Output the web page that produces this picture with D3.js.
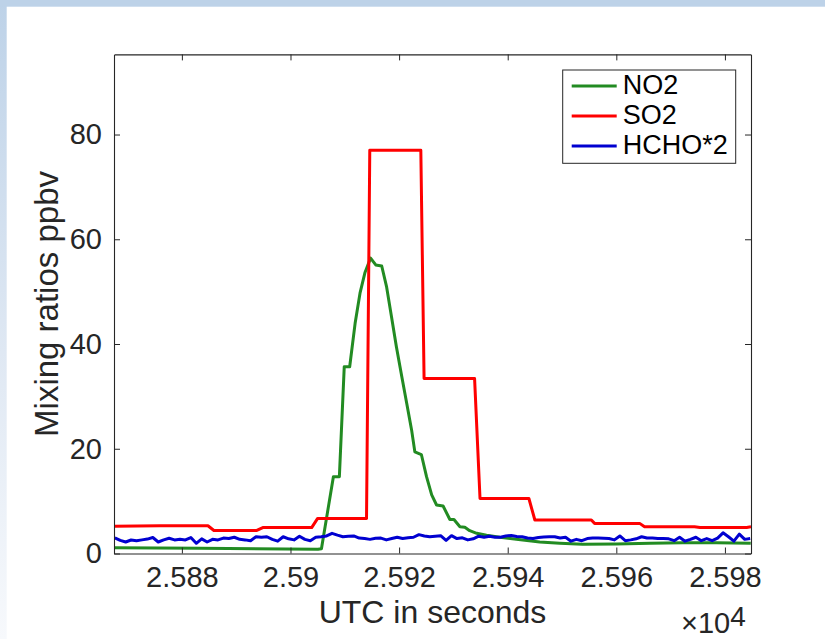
<!DOCTYPE html>
<html>
<head>
<meta charset="utf-8">
<script src="https://cdn.jsdelivr.net/npm/d3@7"></script>
<style>
  html, body { margin: 0; padding: 0; background: #ffffff; }
  svg { display: block; }
  text { font-family: "Liberation Sans", Arial, Helvetica, sans-serif; }
</style>
</head>
<body>
<svg id="chart" width="825" height="639"></svg>
<script>
// ---- data -------------------------------------------------------------
const xDomain = [25867.5, 25984.8];          // UTC seconds
const yDomain = [0, 95.3];                   // ppbv
const xTicks = [25880, 25900, 25920, 25940, 25960, 25980];
const yTicks = [0, 20, 40, 60, 80];
const seriesNames = ["NO2", "SO2", "HCHO*2"];
const seriesColors = ["#228b22", "#ff0000", "#0000d0"];

// NO2, vertices of the 1 Hz trace
const no2Time = [
  25867.5, 25883.3, 25905.05, 25905.7, 25907.9, 25909.0, 25909.9, 25910.9,
  25911.9, 25912.8, 25913.7, 25914.75, 25915.7, 25916.8, 25917.7, 25918.6,
  25919.5, 25920.5, 25921.4, 25922.3, 25922.9, 25924.1, 25925.05, 25926.0,
  25926.9, 25928.1, 25929.35, 25930.1, 25931.2, 25932.1, 25933.0, 25934.3,
  25936.1, 25938.55, 25941.6, 25945.9, 25949.6, 25953.8, 25960.0, 25966.2,
  25972.25, 25978.4, 25984.75
];
const no2Value = [
  1.1, 1.0, 0.8, 0.9, 14.67, 14.67, 35.67, 35.67,
  43.95, 49.7, 53.6, 56.4, 55.1, 54.9, 50.9, 45.2,
  39.5, 33.75, 28.7, 23.6, 19.4, 18.9, 14.67, 11.2,
  9.26, 9.07, 6.5, 6.5, 5.1, 5.0, 4.35, 3.85,
  3.5, 3.1, 2.7, 2.2, 1.95, 1.75, 1.8, 1.95,
  2.05, 2.05, 1.95
];

// SO2, 10 s averages (step vertices)
const so2Time = [
  25867.5, 25876.0, 25884.8, 25885.9, 25893.8, 25894.9, 25903.9, 25905.0,
  25914.0, 25914.6, 25924.0, 25924.6, 25933.9, 25934.9, 25943.9, 25945.0,
  25955.4, 25956.0, 25964.3, 25965.2, 25974.4, 25975.4, 25984.0, 25984.8
];
const so2Value = [
  5.2, 5.3, 5.3, 4.4, 4.4, 4.95, 4.95, 6.7,
  6.7, 77.0, 77.0, 33.4, 33.4, 10.5, 10.5, 6.4,
  6.4, 5.75, 5.75, 5.1, 5.1, 4.95, 4.95, 5.1
];

// HCHO x 2, 1 Hz samples starting at hchoStart
const hchoStart = 25867.65;
const hchoValue = [
  3.0, 2.5, 2.2, 2.58, 2.45, 2.6, 2.75, 3.05, 2.2, 2.6,
  2.9, 2.6, 2.7, 2.6, 3.05, 1.95, 2.8, 2.2, 2.7, 2.6,
  2.95, 2.85, 3.1, 2.7, 2.6, 2.45, 3.2, 3.1, 3.2, 2.7,
  2.35, 3.2, 2.8, 2.6, 3.3, 2.7, 2.45, 3.1, 3.2, 3.35,
  3.85, 3.5, 3.2, 3.3, 3.35, 2.95, 2.85, 2.7, 2.9, 2.95,
  2.6, 2.85, 3.1, 2.85, 3.0, 3.1, 3.6, 3.35, 3.2, 3.3,
  3.4, 2.5, 3.4, 2.85, 3.0, 2.6, 2.8, 3.3, 3.1, 3.3,
  3.1, 3.1, 3.35, 3.45, 3.25, 3.2, 2.95, 2.85, 3.05, 3.15,
  3.2, 3.2, 2.95, 3.1, 2.35, 2.7, 2.45, 2.85, 2.95, 2.95,
  2.9, 2.85, 2.6, 3.35, 2.45, 2.6, 2.8, 3.2, 2.95, 2.95,
  2.85, 2.85, 2.8, 2.45, 3.1, 2.35, 2.7, 3.1, 2.45, 2.85,
  2.45, 2.95, 3.95, 3.2, 2.35, 3.7, 2.7, 2.85
];

// ---- layout -----------------------------------------------------------
const W = 825, H = 639;
const plot = { left: 114, top: 54.4, right: 751, bottom: 553.5 };
const axisColor = "#262626";
const tickFont = 29, labelFont = 32, legendFont = 27;
const lineWidth = 3;

const svg = d3.select("#chart");

// page frame: pale blue band along the top and a fading band down the left
const defs = svg.append("defs");
const grad = defs.append("linearGradient")
  .attr("id", "leftBand").attr("x1", 0).attr("y1", 0).attr("x2", 0).attr("y2", 1);
grad.append("stop").attr("offset", "0%").attr("stop-color", "#bdd2e8");
grad.append("stop").attr("offset", "55%").attr("stop-color", "#dfe8f3");
grad.append("stop").attr("offset", "100%").attr("stop-color", "#f7f9fc");
svg.append("rect").attr("x", 0).attr("y", 0).attr("width", W).attr("height", H).attr("fill", "#ffffff");
svg.append("rect").attr("x", 0).attr("y", 0).attr("width", 6.7).attr("height", H).attr("fill", "url(#leftBand)");
svg.append("rect").attr("x", 0).attr("y", 0).attr("width", W).attr("height", 6.7).attr("fill", "#bdd2e8");

defs.append("clipPath").attr("id", "plotClip")
  .append("rect")
  .attr("x", plot.left).attr("y", plot.top)
  .attr("width", plot.right - plot.left).attr("height", plot.bottom - plot.top);

// ---- scales -----------------------------------------------------------
const x = d3.scaleLinear().domain(xDomain).range([plot.left, plot.right]);
const y = d3.scaleLinear().domain(yDomain).range([plot.bottom, plot.top]);

const fmtX = v => String(+(v / 1e4).toFixed(4));

// ---- series -----------------------------------------------------------
const series = [
  no2Time.map((t, i) => [t, no2Value[i]]),
  so2Time.map((t, i) => [t, so2Value[i]]),
  hchoValue.map((v, i) => [hchoStart + i, v])
];

const line = d3.line().x(d => x(d[0])).y(d => y(d[1]));
const lines = svg.append("g").attr("clip-path", "url(#plotClip)");
series.forEach((pts, k) => {
  lines.append("path")
    .datum(pts)
    .attr("d", line)
    .attr("fill", "none")
    .attr("stroke", seriesColors[k])
    .attr("stroke-width", lineWidth)
    .attr("stroke-linejoin", "round");
});

// ---- axes (ticks pointing inward on all four sides) --------------------
function styleAxis(g) {
  g.select(".domain").attr("stroke", axisColor).attr("stroke-width", 1.1);
  g.selectAll(".tick line").attr("stroke", axisColor).attr("stroke-width", 1);
  g.selectAll(".tick text").attr("fill", axisColor)
    .style("font-family", '"Liberation Sans", Arial, Helvetica, sans-serif');
}

svg.append("g")
  .attr("transform", `translate(0,${plot.bottom})`)
  .call(d3.axisBottom(x).tickValues(xTicks).tickFormat(fmtX).tickSizeInner(-6).tickSizeOuter(0).tickPadding(13))
  .call(g => g.selectAll(".tick text").attr("font-size", tickFont))
  .call(styleAxis);

svg.append("g")
  .attr("transform", `translate(0,${plot.top})`)
  .call(d3.axisTop(x).tickValues(xTicks).tickFormat("").tickSizeInner(-6).tickSizeOuter(0))
  .call(styleAxis);

svg.append("g")
  .attr("transform", `translate(${plot.left},0)`)
  .call(d3.axisLeft(y).tickValues(yTicks).tickFormat(d3.format("d")).tickSizeInner(-6).tickSizeOuter(0).tickPadding(12))
  .call(g => g.selectAll(".tick text").attr("font-size", tickFont))
  .call(styleAxis);

svg.append("g")
  .attr("transform", `translate(${plot.right},0)`)
  .call(d3.axisRight(y).tickValues(yTicks).tickFormat("").tickSizeInner(-6).tickSizeOuter(0))
  .call(styleAxis);

// ---- axis titles ------------------------------------------------------
svg.append("text")
  .attr("x", (plot.left + plot.right) / 2)
  .attr("y", 623)
  .attr("text-anchor", "middle")
  .attr("font-size", labelFont)
  .attr("fill", axisColor)
  .text("UTC in seconds");

svg.append("text")
  .attr("transform", `translate(58,${(plot.top + plot.bottom) / 2}) rotate(-90)`)
  .attr("text-anchor", "middle")
  .attr("font-size", 33)
  .attr("fill", axisColor)
  .text("Mixing ratios ppbv");

// exponent marker for the x axis
const expo = svg.append("text")
  .attr("x", 681)
  .attr("y", 633)
  .attr("font-size", tickFont)
  .attr("fill", axisColor);
expo.append("tspan").text("\u00d710");
expo.append("tspan").attr("dy", -7).attr("font-size", 28).text("4");

// ---- legend -----------------------------------------------------------
const legend = svg.append("g");
legend.append("rect")
  .attr("x", 562.7).attr("y", 70)
  .attr("width", 173).attr("height", 93.3)
  .attr("fill", "#ffffff")
  .attr("stroke", axisColor)
  .attr("stroke-width", 1);

seriesNames.forEach((name, k) => {
  const cy = 86 + k * 30;
  legend.append("line")
    .attr("x1", 571.7).attr("x2", 616.7)
    .attr("y1", cy).attr("y2", cy)
    .attr("stroke", seriesColors[k])
    .attr("stroke-width", lineWidth);
  legend.append("text")
    .attr("x", 622.7)
    .attr("y", cy + 8)
    .attr("font-size", legendFont)
    .attr("fill", "#000000")
    .text(name);
});
</script>
</body>
</html>
